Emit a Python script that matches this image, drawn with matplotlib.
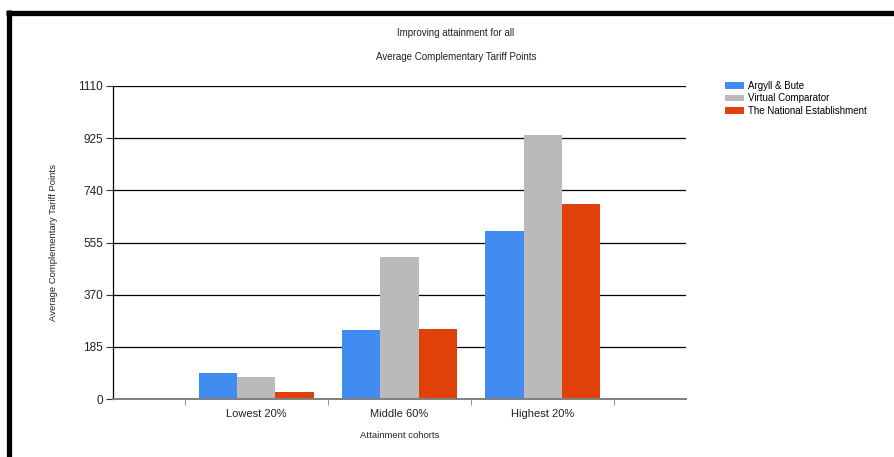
import matplotlib
matplotlib.use("Agg")
import matplotlib.pyplot as plt
from matplotlib.lines import Line2D
import numpy as np

plt.rcParams['font.family'] = ['Liberation Sans', 'DejaVu Sans']

# Data
categories = ["Lowest 20%", "Middle 60%", "Highest 20%"]
series_names = ["Argyll & Bute", "Virtual Comparator", "The National Establishment"]
argyll_bute = [93, 244, 595]
virtual_comparator = [77, 505, 935]
national_establishment = [26, 247, 690]
y_ticks = [0, 185, 370, 555, 740, 925, 1110]

colors = ["#418CF0", "#BABABA", "#E0400A"]

W, H = 894, 457
fig = plt.figure(figsize=(W / 100, H / 100), dpi=100)
fig.patch.set_facecolor("white")

# Dark frame along the top and left edges
fig.add_artist(Line2D([6 / W, 1.0], [1 - 12.5 / H, 1 - 12.5 / H],
                      transform=fig.transFigure, color="black", lw=3.8,
                      solid_capstyle="butt"))
fig.add_artist(Line2D([8.5 / W, 8.5 / W], [0.0, 1 - 10 / H],
                      transform=fig.transFigure, color="black", lw=3.8,
                      solid_capstyle="butt"))

ax = fig.add_axes([113 / W, 1 - 399 / H, (686 - 113) / W, (399 - 86) / H])

x = np.arange(1, len(categories) + 1)
bw = 0.267
for i, (vals, name, c) in enumerate(zip(
        [argyll_bute, virtual_comparator, national_establishment],
        series_names, colors)):
    ax.bar(x + (i - 1) * bw, vals, width=bw, color=c, label=name, zorder=3)

ax.set_xlim(0, 4)
ax.set_ylim(0, 1110)
ax.set_yticks(y_ticks)
ax.set_yticklabels([str(v) for v in y_ticks], fontsize=8.5, color="#222222")
ax.set_xticks(x)
ax.set_xticklabels(categories, fontsize=8, color="#222222")
ax.set_xticks([0.5, 1.5, 2.5, 3.5], minor=True)
ax.tick_params(axis="x", which="major", length=0, pad=7)
ax.tick_params(axis="x", which="minor", length=4, color="#808080", direction="out")
ax.tick_params(axis="y", length=5, color="#333333", pad=2)

ax.grid(axis="y", color="black", lw=0.9, zorder=0)
ax.set_axisbelow(True)
for s in ["top", "right"]:
    ax.spines[s].set_visible(False)
ax.spines["left"].set_color("black")
ax.spines["left"].set_linewidth(0.9)
ax.spines["bottom"].set_color("#808080")
ax.spines["bottom"].set_linewidth(1.4)
ax.spines["bottom"].set_zorder(4)

ax.set_xlabel("Attainment cohorts", fontsize=6.8, color="#222222", labelpad=9)
ax.set_ylabel("Average Complementary Tariff Points", fontsize=6.8,
              color="#222222", labelpad=15)

fig.text(456 / W, 1 - 33 / H, "Improving attainment for all", fontsize=7,
         ha="center", va="center", color="#222222")
fig.text(456 / W, 1 - 57 / H, "Average Complementary Tariff Points",
         fontsize=7, ha="center", va="center", color="#222222")

leg = ax.legend(loc="upper left", bbox_to_anchor=(725 / W, 1 - 81 / H),
                bbox_transform=fig.transFigure, frameon=False, fontsize=7,
                handlelength=2.0, handleheight=0.7, handletextpad=0.35,
                labelspacing=0.25, borderpad=0, borderaxespad=0)

fig.savefig("out.png", dpi=100)
